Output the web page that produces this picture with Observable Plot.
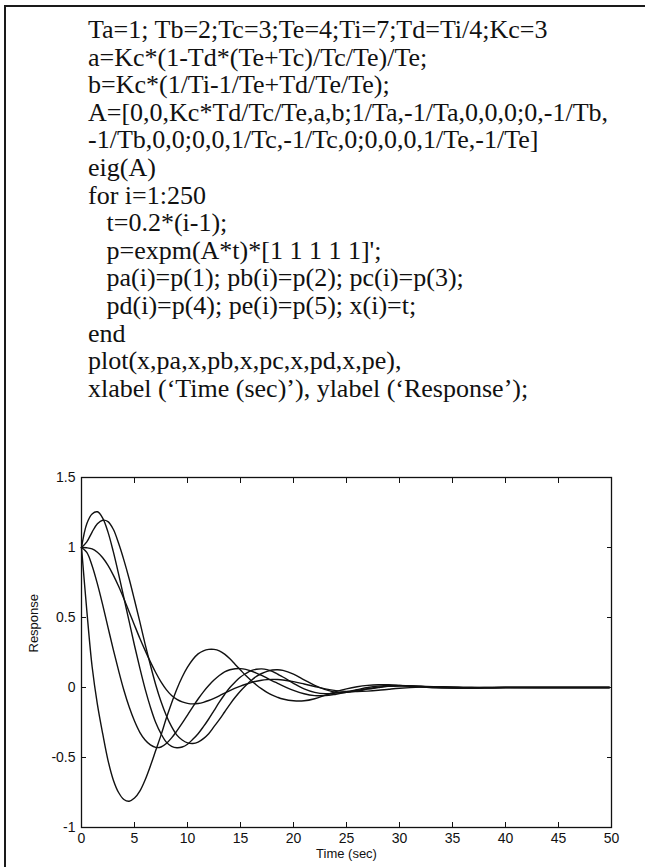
<!DOCTYPE html>
<html>
<head>
<meta charset="utf-8">
<script src="https://cdn.jsdelivr.net/npm/d3@7"></script>
<script src="https://cdn.jsdelivr.net/npm/@observablehq/plot@0.6"></script>
<style>
  html, body { margin: 0; padding: 0; background: #fff; }
  body { width: 645px; height: 867px; position: relative; overflow: hidden; }
  #box { position: absolute; left: 4px; top: 5px; width: 700px; height: 900px; border: 2px solid #1a1a1a; box-sizing: border-box; }
  #code { position: absolute; left: 88px; top: 16px; font-family: "Liberation Serif", "Times New Roman", serif; font-size: 26px; line-height: 27.6px; color: #111; white-space: pre; }
  #code .ind { padding-left: 18.5px; }
  #chart { position: absolute; left: 0; top: 440px; }
</style>
</head>
<body>
<div id="box"></div>
<div id="code"></div>
<div id="chart"></div>
<script>
// Code listing shown above the chart
const codeLines = [
  "Ta=1; Tb=2;Tc=3;Te=4;Ti=7;Td=Ti/4;Kc=3",
  "a=Kc*(1-Td*(Te+Tc)/Tc/Te)/Te;",
  "b=Kc*(1/Ti-1/Te+Td/Te/Te);",
  "A=[0,0,Kc*Td/Tc/Te,a,b;1/Ta,-1/Ta,0,0,0;0,-1/Tb,",
  "-1/Tb,0,0;0,0,1/Tc,-1/Tc,0;0,0,0,1/Te,-1/Te]",
  "eig(A)",
  "for i=1:250",
  "  t=0.2*(i-1);",
  "  p=expm(A*t)*[1 1 1 1 1]';",
  "  pa(i)=p(1); pb(i)=p(2); pc(i)=p(3);",
  "  pd(i)=p(4); pe(i)=p(5); x(i)=t;",
  "end",
  "plot(x,pa,x,pb,x,pc,x,pd,x,pe),",
  "xlabel (\u2018Time (sec)\u2019), ylabel (\u2018Response\u2019);"
];

// Axis ticks and labels
const xTicks = [0, 5, 10, 15, 20, 25, 30, 35, 40, 45, 50];
const yTicks = [-1, -0.5, 0, 0.5, 1, 1.5];
const xLabel = "Time (sec)";
const yLabel = "Response";

// Sample times (sec)
const time = [0,0.5,1,1.5,2,2.5,3,3.5,4,4.5,5,5.5,6,6.5,7,7.5,8,8.5,9,9.5,10,10.5,11,11.5,12,12.5,13,13.5,14,14.5,15,15.5,16,16.5,17,17.5,18,18.5,19,20,21,22,23,24,25,26,27,28,29,30,32,34,36,38,40,45,49.8];

// Responses
const pa = [1,1.17,1.24,1.255,1.21,1.11,0.97,0.81,0.64,0.47,0.30,0.14,-0.01,-0.14,-0.25,-0.33,-0.39,-0.42,-0.43,-0.425,-0.405,-0.37,-0.33,-0.28,-0.225,-0.165,-0.105,-0.05,0.0,0.04,0.075,0.10,0.12,0.13,0.133,0.128,0.115,0.095,0.075,0.03,-0.01,-0.035,-0.045,-0.04,-0.03,-0.015,0.0,0.01,0.015,0.015,0.008,0.0,-0.004,-0.003,0,0,0];
const pb = [1,1.04,1.11,1.17,1.195,1.185,1.13,1.03,0.91,0.775,0.625,0.47,0.31,0.16,0.02,-0.10,-0.20,-0.28,-0.34,-0.375,-0.395,-0.40,-0.39,-0.365,-0.33,-0.28,-0.23,-0.175,-0.12,-0.07,-0.025,0.015,0.05,0.08,0.10,0.115,0.125,0.127,0.122,0.095,0.055,0.015,-0.015,-0.035,-0.035,-0.025,-0.012,0.0,0.01,0.013,0.01,0.003,-0.003,-0.003,0,0,0];
const pc = [1,0.55,0.15,-0.12,-0.33,-0.52,-0.66,-0.75,-0.80,-0.812,-0.79,-0.74,-0.66,-0.56,-0.45,-0.34,-0.22,-0.11,-0.01,0.075,0.145,0.2,0.24,0.262,0.272,0.272,0.262,0.238,0.205,0.165,0.125,0.085,0.05,0.018,-0.01,-0.035,-0.055,-0.07,-0.082,-0.095,-0.095,-0.08,-0.055,-0.03,-0.01,0.005,0.015,0.02,0.02,0.015,0.003,-0.004,-0.004,0.0,0.001,0,0];
const pd = [1,0.965,0.87,0.74,0.59,0.43,0.27,0.12,-0.02,-0.14,-0.24,-0.32,-0.375,-0.41,-0.428,-0.425,-0.40,-0.36,-0.31,-0.255,-0.197,-0.138,-0.082,-0.031,0.014,0.053,0.086,0.112,0.127,0.134,0.135,0.129,0.118,0.103,0.086,0.067,0.048,0.03,0.012,-0.02,-0.045,-0.058,-0.058,-0.048,-0.035,-0.02,-0.008,0.002,0.008,0.01,0.008,0.002,-0.002,-0.002,0,0,0];
const pe = [1,0.998,0.99,0.966,0.927,0.872,0.803,0.723,0.634,0.54,0.445,0.352,0.265,0.183,0.107,0.04,-0.015,-0.057,-0.085,-0.103,-0.113,-0.117,-0.114,-0.106,-0.093,-0.077,-0.059,-0.04,-0.022,-0.005,0.01,0.023,0.035,0.045,0.052,0.056,0.058,0.057,0.054,0.042,0.025,0.007,-0.01,-0.022,-0.028,-0.029,-0.026,-0.02,-0.012,-0.005,0.003,0.005,0.003,0.0,0,0,0];

const seriesNames = ["pa", "pb", "pc", "pd", "pe"];
const seriesValues = [pa, pb, pc, pd, pe];

// Render code listing
const codeEl = document.getElementById("code");
codeLines.forEach(line => {
  const div = document.createElement("div");
  if (line.startsWith("  ")) { div.className = "ind"; div.textContent = line.trim(); }
  else div.textContent = line;
  codeEl.appendChild(div);
});

// Long-format table
const rows = [];
seriesValues.forEach((vals, k) => {
  vals.forEach((v, i) => rows.push({t: time[i], v, s: seriesNames[k]}));
});

const fmt = d => String(d);
const ink = "#111";

const chart = Plot.plot({
  width: 645,
  height: 427,
  marginLeft: 81,
  marginRight: 34,
  marginTop: 37,
  marginBottom: 40,
  style: { fontFamily: "'Liberation Sans', Arial, sans-serif", fontSize: "13px", color: ink, background: "transparent" },
  x: { domain: [0, 50] },
  y: { domain: [-1, 1.5] },
  marks: [
    Plot.line(rows, { x: "t", y: "v", z: "s", stroke: ink, strokeWidth: 1.4, curve: "catmull-rom" }),
    Plot.frame({ stroke: ink, strokeWidth: 1.3 }),
    // inward ticks on all four sides
    Plot.axisX(xTicks, { anchor: "bottom", tickSize: 5, dy: -5, fill: "none", label: null, stroke: ink }),
    Plot.axisX(xTicks, { anchor: "top", tickSize: 5, dy: 5, fill: "none", label: null, stroke: ink }),
    Plot.axisY(yTicks, { anchor: "left", tickSize: 5, dx: 5, fill: "none", label: null, stroke: ink }),
    Plot.axisY(yTicks, { anchor: "right", tickSize: 5, dx: -5, fill: "none", label: null, stroke: ink }),
    // tick labels
    Plot.axisX(xTicks, { anchor: "bottom", tickSize: 0, tickPadding: 6, tickFormat: fmt, label: null, fill: ink, fontSize: 14 }),
    Plot.axisY(yTicks, { anchor: "left", tickSize: 0, tickPadding: 6, tickFormat: fmt, label: null, fill: ink, fontSize: 14 }),
    // axis titles
    Plot.text([xLabel], { text: d => d, frameAnchor: "bottom", dy: 30, fill: ink, fontSize: 13 }),
    Plot.text([yLabel], { text: d => d, frameAnchor: "left", dx: -48, rotate: -90, fill: ink, fontSize: 13 })
  ]
});
document.getElementById("chart").appendChild(chart);
</script>
</body>
</html>
